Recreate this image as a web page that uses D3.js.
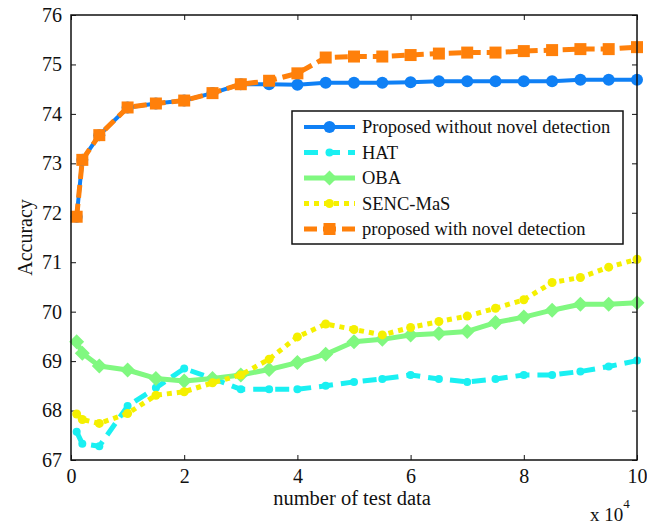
<!DOCTYPE html>
<html>
<head>
<meta charset="utf-8">
<script src="https://cdn.jsdelivr.net/npm/d3@7"></script>
<style>
  html, body { margin: 0; padding: 0; background: #fff; }
</style>
</head>
<body>
<svg id="chart"></svg>
<script>
// Data (x in units of 10^4 test samples)
const xs = [0.1, 0.2, 0.5, 1, 1.5, 2, 2.5, 3, 3.5, 4, 4.5, 5, 5.5, 6, 6.5, 7, 7.5, 8, 8.5, 9, 9.5, 10];

const proposedNoNovel = [71.92, 73.07, 73.57, 74.13, 74.21, 74.27, 74.42, 74.60, 74.60, 74.59, 74.63, 74.63,
                         74.63, 74.64, 74.66, 74.66, 74.66, 74.66, 74.66, 74.69, 74.69, 74.69];
const hat = [67.57, 67.33, 67.28, 68.09, 68.46, 68.85, 68.65, 68.43, 68.43, 68.43, 68.50, 68.58,
             68.64, 68.72, 68.64, 68.58, 68.64, 68.72, 68.72, 68.79, 68.89, 69.01];
const oba = [69.39, 69.16, 68.90, 68.82, 68.65, 68.60, 68.65, 68.72, 68.83, 68.97, 69.14, 69.39,
             69.44, 69.53, 69.56, 69.60, 69.78, 69.89, 70.03, 70.15, 70.15, 70.18];
const sencMas = [67.93, 67.82, 67.74, 67.94, 68.31, 68.38, 68.56, 68.72, 69.04, 69.49, 69.75, 69.64,
                 69.53, 69.68, 69.80, 69.91, 70.07, 70.24, 70.59, 70.69, 70.90, 71.06];
const proposedNovel = [71.92, 73.07, 73.57, 74.13, 74.21, 74.27, 74.42, 74.60, 74.67, 74.82, 75.14, 75.16,
                       75.16, 75.19, 75.22, 75.24, 75.24, 75.27, 75.29, 75.31, 75.31, 75.35];

const xTicks = [0, 2, 4, 6, 8, 10];
const yTicks = [67, 68, 69, 70, 71, 72, 73, 74, 75, 76];

const seriesNames = ["Proposed without novel detection", "HAT", "OBA", "SENC-MaS", "proposed with novel detection"];
const seriesValues = [proposedNoNovel, hat, oba, sencMas, proposedNovel];

// Styles per series
const styles = [
  { color: "#0f80f5", width: 4,   dash: null,    marker: "circle",  size: 6 },
  { color: "#1af0f2", width: 5,   dash: "14,8",  marker: "circle",  size: 4 },
  { color: "#80f880", width: 5,   dash: null,    marker: "diamond", size: 7.5 },
  { color: "#f5f000", width: 5,   dash: "5,5",   marker: "circle",  size: 4.5 },
  { color: "#ff800a", width: 5,   dash: "13,6",  marker: "square",  size: 6 }
];

const FONT = "Liberation Serif";

const width = 647, height = 525;
const margin = { left: 71, right: 10, top: 15, bottom: 65 };

const svg = d3.select("#chart").attr("width", width).attr("height", height);

const x = d3.scaleLinear().domain([0, 10]).range([margin.left, width - margin.right]);
const y = d3.scaleLinear().domain([67, 76]).range([height - margin.bottom, margin.top]);

const tickLen = 5;
const axes = svg.append("g");

// bottom / left axes with inward ticks
axes.append("g")
    .attr("transform", `translate(0,${y(67)})`)
    .call(d3.axisBottom(x).tickValues(xTicks).tickSize(-tickLen).tickPadding(9).tickFormat(d3.format("d")))
    .call(g => g.select(".domain").remove());

axes.append("g")
    .attr("transform", `translate(${x(0)},0)`)
    .call(d3.axisLeft(y).tickValues(yTicks).tickSize(-tickLen).tickPadding(9).tickFormat(d3.format("d")))
    .call(g => g.select(".domain").remove());

// top / right axes (ticks only)
axes.append("g")
    .attr("transform", `translate(0,${y(76)})`)
    .call(d3.axisTop(x).tickValues(xTicks).tickSize(-tickLen).tickFormat(""))
    .call(g => g.select(".domain").remove());

axes.append("g")
    .attr("transform", `translate(${x(10)},0)`)
    .call(d3.axisRight(y).tickValues(yTicks).tickSize(-tickLen).tickFormat(""))
    .call(g => g.select(".domain").remove());

axes.selectAll(".tick text")
    .style("font-family", FONT).style("font-size", "20px").attr("fill", "#111");
axes.selectAll(".tick line").attr("stroke", "#111").attr("stroke-width", 1);

// Lines and markers
const plot = svg.append("g");

function drawMarker(g, type, cx, cy, s, color) {
  if (type === "circle") {
    g.append("circle").attr("cx", cx).attr("cy", cy).attr("r", s).attr("fill", color);
  } else if (type === "square") {
    g.append("rect").attr("x", cx - s).attr("y", cy - s).attr("width", 2 * s).attr("height", 2 * s).attr("fill", color);
  } else if (type === "diamond") {
    g.append("path").attr("d", `M${cx},${cy - s}L${cx + s},${cy}L${cx},${cy + s}L${cx - s},${cy}Z`).attr("fill", color);
  }
}

const line = d3.line().x(d => x(d[0])).y(d => y(d[1]));

seriesValues.forEach((vals, i) => {
  const st = styles[i];
  const pts = xs.map((v, j) => [v, vals[j]]);
  const g = plot.append("g");
  g.append("path")
    .attr("d", line(pts))
    .attr("fill", "none")
    .attr("stroke", st.color)
    .attr("stroke-width", st.width)
    .attr("stroke-dasharray", st.dash)
    .attr("stroke-linejoin", "round");
  pts.forEach(p => drawMarker(g, st.marker, x(p[0]), y(p[1]), st.size, st.color));
});

// Frame
svg.append("rect")
    .attr("x", x(0)).attr("y", y(76))
    .attr("width", x(10) - x(0)).attr("height", y(67) - y(76))
    .attr("fill", "none").attr("stroke", "#111").attr("stroke-width", 1.5);

// Legend
const lg = svg.append("g").attr("transform", "translate(292,111)");
lg.append("rect").attr("width", 331).attr("height", 133)
    .attr("fill", "#fff").attr("stroke", "#111").attr("stroke-width", 1.5);

seriesNames.forEach((name, i) => {
  const st = styles[i];
  const ry = 16 + i * 25.5;
  const row = lg.append("g");
  row.append("line")
    .attr("x1", 12).attr("x2", 63).attr("y1", ry).attr("y2", ry)
    .attr("stroke", st.color).attr("stroke-width", st.width)
    .attr("stroke-dasharray", st.dash);
  drawMarker(row, st.marker, 37.5, ry, st.size, st.color);
  row.append("text")
    .attr("x", 70).attr("y", ry).attr("dy", "0.35em")
    .style("font-family", FONT).style("font-size", "18.5px").attr("fill", "#111")
    .text(name);
});

// Axis labels
svg.append("text")
    .attr("x", 352).attr("y", 505)
    .attr("text-anchor", "middle")
    .style("font-family", FONT).style("font-size", "20.5px").attr("fill", "#111")
    .text("number of test data");

svg.append("text")
    .attr("transform", `translate(32,${(y(67) + y(76)) / 2}) rotate(-90)`)
    .attr("text-anchor", "middle")
    .style("font-family", FONT).style("font-size", "20px").attr("fill", "#111")
    .text("Accuracy");

const sci = svg.append("text").attr("x", 590).attr("y", 521)
    .style("font-family", FONT).style("font-size", "19px").attr("fill", "#111");
sci.append("tspan").text("x 10");
sci.append("tspan").attr("dy", -13).style("font-size", "13px").text("4");
</script>
</body>
</html>
